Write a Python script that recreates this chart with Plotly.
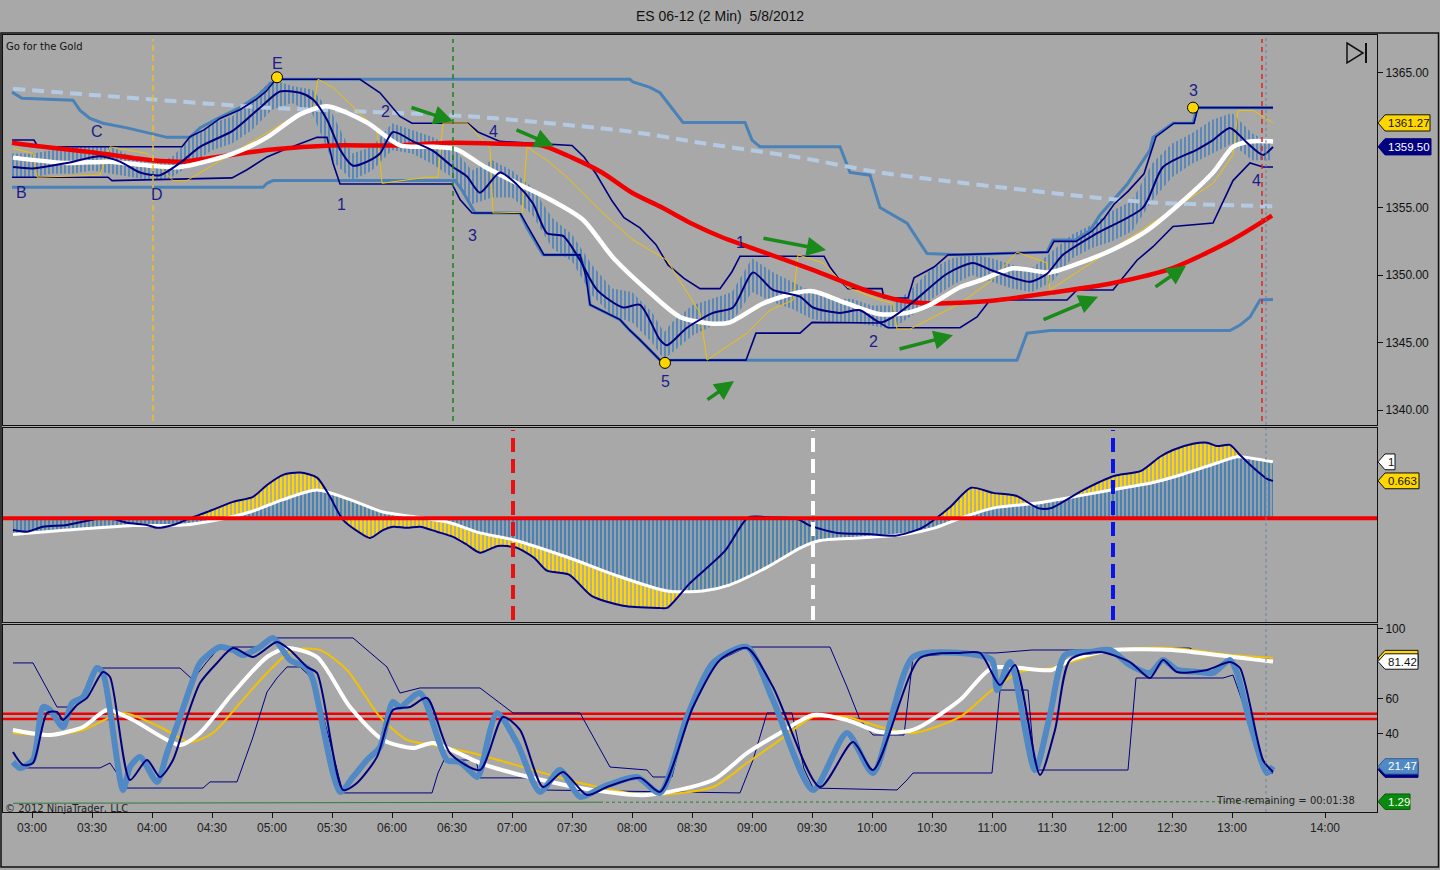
import plotly.graph_objects as go

FONT = "DejaVu Sans"
NUMFONT = "Liberation Sans"
BG = "#A8A8A8"
NAVY = "#000080"
STEEL = "#4A82B8"
GOLD = "#FFD700"
GREEN = "#1A8A1A"
CLEAR = "rgba(0,0,0,0)"

# ---------------- time axis (minutes after 03:00) ----------------
tick_vals = [0, 30, 60, 90, 120, 150, 180, 210, 240, 270, 300, 330, 360, 390,
             420, 450, 480, 510, 540, 570, 600, 646.5]
tick_text = ["03:00", "03:30", "04:00", "04:30", "05:00", "05:30", "06:00", "06:30",
             "07:00", "07:30", "08:00", "08:30", "09:00", "09:30", "10:00", "10:30",
             "11:00", "11:30", "12:00", "12:30", "13:00", "14:00"]

# ---------------- price panel ----------------
bar_t = [-10, 0, 10, 20, 30, 40, 50, 60, 70, 80, 90, 100, 110, 120, 130, 140, 150, 160,
         170, 180, 190, 200, 210, 220, 230, 240, 250, 260, 270, 280, 290, 300, 310, 316,
         320, 330, 340, 350, 360, 370, 380, 390, 400, 410, 420, 430, 440, 450, 460, 470,
         480, 490, 500, 510, 520, 530, 540, 550, 560, 570, 580, 590, 600, 610, 620]
bar_hi = [1359.0, 1359.0, 1359.25, 1359.5, 1359.5, 1359.5, 1358.75, 1358.25, 1358.75,
          1360.25, 1361.25, 1361.75, 1363.0, 1364.5, 1364.0, 1363.75, 1362.0, 1359.0,
          1359.5, 1361.25, 1360.75, 1360.25, 1359.5, 1357.75, 1358.5, 1357.75, 1356.5,
          1354.25, 1353.0, 1350.75, 1349.0, 1348.75, 1347.25, 1345.75, 1346.5, 1347.75,
          1348.25, 1348.75, 1351.25, 1350.25, 1349.5, 1348.75, 1348.25, 1348.25, 1347.75,
          1347.75, 1349.0, 1350.5, 1351.25, 1351.5, 1351.25, 1350.75, 1350.5, 1351.75,
          1353.0, 1353.75, 1354.75, 1355.5, 1358.25, 1359.75, 1360.5, 1361.5, 1362.0,
          1360.5, 1359.75]
bar_lo = [1357.25, 1357.25, 1357.5, 1357.5, 1357.75, 1357.5, 1357.25, 1357.0, 1357.25,
          1358.25, 1359.25, 1359.75, 1360.75, 1362.25, 1362.75, 1362.0, 1358.5, 1357.0,
          1357.75, 1359.25, 1359.0, 1358.25, 1357.25, 1355.25, 1355.75, 1355.75, 1354.5,
          1352.0, 1351.0, 1348.5, 1347.0, 1346.5, 1345.0, 1343.75, 1344.25, 1345.5,
          1346.25, 1346.5, 1348.75, 1348.0, 1347.5, 1346.75, 1346.5, 1346.5, 1346.25,
          1346.0, 1347.0, 1348.25, 1349.25, 1350.0, 1349.5, 1349.0, 1348.75, 1349.5,
          1351.25, 1352.0, 1352.5, 1353.25, 1355.5, 1357.25, 1358.25, 1359.0, 1359.75,
          1358.5, 1358.5]

fast_t = [-9.5, 0.5, 17.5, 34, 44, 54, 64, 74, 84, 100.5, 114, 124, 134, 140.5, 147.5,
          154, 160.5, 167.5, 174, 180.5, 190.5, 200.5, 210.5, 217.5, 224, 234, 242.5,
          250.5, 257.5, 265.5, 274, 282.5, 295.5, 304, 314, 317.5, 327.5, 340.5, 350.5,
          360.5, 370.5, 384, 390.5, 404, 414, 424, 430.5, 440.5, 457.5, 470.5, 479, 499,
          507.5, 515.5, 532.5, 555.5, 565.5, 582.5, 590.5, 599, 607.5, 615.5, 620.5]
fast_ma = [1358.0, 1357.9, 1358.3, 1358.8, 1358.4, 1357.6, 1357.4, 1358.3, 1359.5, 1360.7,
           1362.4, 1363.6, 1363.5, 1363.0, 1361.5, 1359.3, 1358.1, 1358.4, 1359.0, 1360.6,
           1359.9, 1359.2, 1358.0, 1357.3, 1356.1, 1357.6, 1356.7, 1355.3, 1353.1, 1352.9,
           1351.1, 1348.9, 1347.6, 1347.8, 1345.2, 1344.8, 1346.1, 1347.2, 1347.6, 1350.2,
           1348.9, 1348.4, 1347.6, 1347.2, 1347.4, 1346.5, 1346.9, 1348.0, 1350.1, 1350.9,
           1350.4, 1349.5, 1350.1, 1351.5, 1353.1, 1355.0, 1358.0, 1359.3, 1360.0, 1360.9,
           1359.8, 1358.9, 1359.5]

mid_t = [-9.5, 17.5, 39, 59, 74, 100.5, 117.5, 134, 147.5, 167.5, 184, 200.5, 212.5,
         225.5, 242.5, 259, 275.5, 290.5, 307.5, 324, 340.5, 349, 365.5, 382.5, 390.5,
         407.5, 424, 437.5, 449, 464, 474, 490.5, 509, 524, 540.5, 557.5, 574, 590.5,
         600.5, 609, 620.5]
mid_ma = [1358.7, 1358.3, 1358.4, 1358.1, 1358.0, 1359.0, 1360.2, 1361.9, 1362.5, 1361.3,
          1359.6, 1359.5, 1359.3, 1358.1, 1356.8, 1355.6, 1354.1, 1351.3, 1348.9, 1346.9,
          1346.4, 1346.5, 1347.9, 1348.7, 1348.8, 1347.9, 1347.1, 1347.2, 1347.8, 1349.1,
          1349.6, 1350.5, 1350.2, 1350.9, 1351.9, 1353.3, 1355.3, 1357.6, 1359.5, 1359.9,
          1359.9]

slow_t = [-10, 0, 30, 60, 75, 90, 120, 150, 180, 210, 240, 255, 270, 285, 300, 315, 330,
          345, 360, 390, 420, 435, 450, 480, 510, 540, 570, 600, 620]
slow_ma = [1359.8, 1359.6, 1359.1, 1358.5, 1358.4, 1358.7, 1359.3, 1359.6, 1359.6, 1359.8,
           1359.7, 1359.6, 1358.7, 1357.6, 1356.1, 1355.0, 1353.8, 1352.8, 1352.0, 1350.4,
           1348.7, 1348.1, 1347.9, 1348.1, 1348.7, 1349.4, 1350.5, 1352.6, 1354.4]

long_t = [-9.5, 60.5, 117.5, 167.5, 224, 300.5, 334, 384, 424, 490.5, 557.5, 620.5]
long_ma = [1363.8, 1363.0, 1362.4, 1362.1, 1361.7, 1360.6, 1359.8, 1358.7, 1357.6,
           1356.4, 1355.4, 1355.1]

outer_upper = [(-10, 1363.55), (-5, 1363.1), (20.5, 1362.95), (24, 1362.2), (29, 1361.6),
               (35.5, 1361.25), (47.5, 1360.9), (55.5, 1360.6), (67.5, 1360.2), (79, 1360.2),
               (84, 1360.9), (91.5, 1361.5), (104, 1362.4), (113, 1363.3), (119, 1364.15),
               (122.5, 1364.5), (299, 1364.5), (300.5, 1364.3), (309, 1363.9), (314, 1363.5),
               (322.5, 1361.85), (325.5, 1361.3), (356.5, 1361.3), (360, 1360.0),
               (364, 1359.5), (404, 1359.5), (409, 1357.6), (419, 1357.4), (424, 1355.0),
               (437.5, 1353.85), (447.5, 1351.6), (464, 1351.5), (507.5, 1351.7),
               (510.5, 1352.6), (521.5, 1352.6), (529, 1353.3), (534, 1354.45),
               (540.5, 1355.55), (547.5, 1356.7), (559, 1359.25), (560.5, 1360.2),
               (570.5, 1361.25), (580.5, 1361.25), (582.5, 1362.4), (620.5, 1362.4)]
outer_lower = [(-10, 1356.5), (115.5, 1356.5), (117.5, 1356.8), (120.5, 1357.0),
               (211.5, 1357.0), (215, 1356.3), (221.5, 1354.6), (244, 1354.6),
               (247.5, 1353.5), (255.5, 1351.5), (274, 1351.5), (277.5, 1349.85),
               (279, 1347.8), (294, 1346.7), (299, 1345.9), (304, 1345.2), (314, 1343.7),
               (492.5, 1343.7), (497.5, 1345.7), (509, 1345.9), (599, 1345.9),
               (604, 1346.3), (609, 1346.9), (614, 1348.15), (620.5, 1348.2)]

chan_upper = [(-10, 1360.0), (1, 1360.0), (3, 1359.5), (75, 1359.5), (79, 1360.25),
              (86, 1360.75), (94, 1361.6), (104, 1362.25), (112, 1363.0), (117, 1363.6),
              (122, 1364.5), (164, 1364.5), (174, 1363.5), (184, 1361.75), (190, 1361.25),
              (218, 1361.25), (223, 1360.6), (234, 1359.9), (270, 1359.6), (276, 1358.75),
              (282, 1357.5), (290, 1355.5), (296, 1354.25), (304, 1353.5), (312, 1352.25),
              (318, 1350.75), (326, 1349.75), (334, 1349.0), (344, 1349.0), (350, 1350.25),
              (354, 1351.4), (396, 1351.4), (399, 1350.6), (404, 1349.6), (408, 1349.0),
              (425, 1349.0), (426, 1348.3), (438, 1348.3), (441, 1349.8), (451, 1350.6),
              (458, 1351.5), (508, 1351.7), (511, 1352.5), (522, 1352.5), (530, 1353.25),
              (536, 1354.2), (541, 1355.25), (548, 1356.2), (556, 1357.5), (560, 1359.25),
              (562, 1360.25), (571, 1361.25), (581, 1361.25), (583, 1362.4), (620.5, 1362.4)]
chan_lower = [(-10, 1357.25), (38, 1357.25), (40, 1357.0), (100, 1357.2), (107.5, 1357.8),
              (117.5, 1358.75), (125.5, 1359.25), (142.5, 1360.2), (147.5, 1360.2),
              (150.5, 1358.3), (154, 1356.75), (210, 1356.75), (214, 1355.6), (220, 1354.6),
              (244, 1354.6), (248, 1353.6), (256, 1351.5), (274, 1351.5), (277, 1349.9),
              (279, 1347.8), (294, 1346.7), (299, 1345.9), (304, 1345.2), (314, 1343.7),
              (357, 1343.7), (362, 1345.7), (384, 1345.7), (390, 1346.5), (424, 1346.45),
              (428, 1346.1), (464, 1346.1), (472.5, 1346.9), (479, 1348.15), (517.5, 1348.15),
              (522.5, 1348.9), (540.5, 1348.9), (545.5, 1349.8), (552.5, 1351.1),
              (560.5, 1352.1), (570.5, 1353.6), (590.5, 1353.85), (597.5, 1356.1),
              (600.5, 1357.0), (609, 1358.3), (615.5, 1358.0), (620.5, 1358.0)]

swing = [(-9.5, 1359.4), (0.5, 1359.0), (2.5, 1357.25), (34, 1357.4), (39, 1359.5),
         (57.5, 1359.0), (70.5, 1357.0), (77.5, 1357.0), (134, 1362.0), (140.5, 1362.2),
         (143, 1364.5), (150.5, 1363.9), (172.5, 1360.75), (175, 1356.8), (197.5, 1357.25),
         (203, 1357.25), (205.5, 1361.25), (217.5, 1361.25), (229, 1359.4), (230.5, 1354.6),
         (245, 1354.65), (247.5, 1359.5), (257.5, 1358.5), (267.5, 1357.25), (284, 1354.8),
         (300.5, 1352.6), (317.5, 1351.1), (332.5, 1347.6), (334, 1347.2), (337.5, 1343.7),
         (357.5, 1345.7), (369, 1347.4), (380.5, 1348.15), (383, 1351.5), (395.5, 1350.9),
         (407.5, 1349.1), (424, 1348.15), (430.5, 1347.9), (432.5, 1346.0), (439, 1346.0),
         (464, 1347.9), (479, 1349.5), (492.5, 1351.7), (507.5, 1350.9), (509, 1348.9),
         (557.5, 1353.6), (590.5, 1356.8), (600.5, 1358.9), (603, 1362.2), (610.5, 1362.2),
         (620.5, 1361.27)]

wave_labels = [("E", 122.5, 1365.7), ("B", -5.5, 1356.15), ("C", 32.5, 1360.65),
               ("D", 62.5, 1356.0), ("1", 154.5, 1355.25), ("2", 176.5, 1362.1),
               ("3", 220, 1352.95), ("4", 230.5, 1360.65), ("1", 354, 1352.45),
               ("2", 420.5, 1345.1), ("5", 316.5, 1342.1), ("3", 580.5, 1363.7),
               ("4", 612, 1357.0)]
pivot_t = [122.5, 316.5, 580.5]
pivot_p = [1364.65, 1343.5, 1362.4]
# (tail t, tail price, head t, head price)
arrows = [(189, 1362.45, 210.5, 1361.4), (241.5, 1360.8, 261, 1359.55),
          (365, 1352.75, 397, 1351.85), (337, 1340.7, 351, 1342.15),
          (433, 1344.5, 460.5, 1345.55), (505, 1346.65, 533, 1348.4),
          (561, 1349.05, 577, 1350.7)]

# ---------------- MACD panel ----------------
macd_t = [-9.5, -2.5, 5.5, 17.5, 34, 39, 47.5, 57.5, 62.5, 70.5, 79, 87.5, 100.5, 110.5,
          117.5, 125.5, 134, 142.5, 149, 155.5, 164, 169, 175.5, 180.5, 187.5, 194, 202.5,
          210.5, 217.5, 224, 233, 242, 251, 257.5, 268.5, 280, 295.5, 313.5, 317.5, 329,
          346.5, 358, 367, 382.5, 389, 402.5, 418, 431.5, 445, 458.5, 469.5, 480.5, 492,
          503, 509.5, 525.5, 541, 554.5, 564, 570.5, 580.5, 587.5, 592.5, 599, 604, 609,
          617.5, 620.5]
macd = [-0.21, -0.24, -0.15, -0.12, 0.0, 0.0, -0.08, -0.12, -0.17, -0.12, 0.0, 0.11, 0.29,
        0.38, 0.59, 0.77, 0.81, 0.72, 0.38, -0.03, -0.26, -0.35, -0.21, -0.15, -0.17, -0.15,
        -0.24, -0.33, -0.47, -0.61, -0.49, -0.52, -0.70, -0.93, -1.00, -1.38, -1.55, -1.59,
        -1.59, -1.15, -0.58, 0.01, 0.02, -0.01, -0.13, -0.26, -0.28, -0.31, -0.17, 0.18,
        0.54, 0.45, 0.40, 0.18, 0.18, 0.50, 0.75, 0.84, 1.09, 1.21, 1.32, 1.34, 1.28, 1.30,
        1.12, 0.95, 0.70, 0.663]
signal_t = [-9.5, 17.5, 50.5, 75.5, 92.5, 109, 125.5, 142.5, 159, 175.5, 192.5, 209, 224,
            240.5, 268.5, 291, 317.5, 335.5, 349, 367, 384.5, 393.5, 413.5, 436, 451.5, 465,
            480.5, 503, 525.5, 547.5, 559, 575.5, 592.5, 602.5, 609, 620.5]
signal = [-0.29, -0.21, -0.13, -0.12, -0.03, 0.11, 0.33, 0.50, 0.33, 0.11, 0.02, -0.08,
          -0.26, -0.38, -0.70, -1.00, -1.29, -1.29, -1.18, -0.88, -0.52, -0.40, -0.35, -0.29,
          -0.17, 0.01, 0.18, 0.27, 0.41, 0.55, 0.62, 0.78, 0.98, 1.09, 1.07, 1.0]
macd_marks = [(240.5, "#E81010"), (390.5, "#FFFFFF"), (540.5, "#0A14E6")]

# ---------------- stochastic panel ----------------
k_t = [-9.5, -6, 0.5, 5.5, 9, 15.5, 20, 25.5, 32.5, 35.5, 45.5, 49, 54, 62.5, 67.5, 74,
       80.5, 84, 94, 100.5, 105.5, 114, 120.5, 129, 137.5, 140.5, 154, 160.5, 167.5, 174,
       180.5, 184, 194, 207.5, 214, 222.5, 224, 232.5, 242.5, 254, 264, 274, 285.5, 302.5,
       314, 327.5, 340.5, 357.5, 370.5, 390.5, 407.5, 420.5, 440.5, 464, 480, 482.5, 489,
       501.5, 509, 516.5, 529, 539, 549, 559, 565.5, 572.5, 584, 590.5, 599, 602.5, 609,
       617.5, 620.5]
stoch_k = [24.0, 20.6, 25.1, 55.4, 53.7, 44.0, 57.7, 61.1, 77.7, 74.9, 8.0, 21.1, 26.9,
           12.6, 29.1, 49.7, 70.9, 80.6, 89.7, 88.0, 85.1, 89.7, 94.9, 82.3, 77.7, 70.9, 6.9,
           15.4, 25.1, 32.6, 58.3, 55.4, 63.4, 25.1, 24.0, 15.4, 17.7, 52.0, 34.9, 6.9, 19.4,
           4.0, 9.7, 15.4, 6.3, 49.7, 80.6, 89.7, 59.4, 8.0, 40.6, 17.7, 84.0, 86.3, 82.3,
           65.1, 81.1, 19.4, 50.9, 85.1, 86.9, 88.0, 79.4, 74.9, 82.3, 76.6, 75.4, 74.9, 82.3,
           74.9, 46.3, 17.7, 21.47]
d_t = [-9.5, -4.5, 0.5, 7.5, 12.5, 15.5, 22.5, 27.5, 35.5, 39, 49, 57.5, 64, 70.5, 77.5,
       84, 92.5, 100.5, 110.5, 122.5, 129, 137.5, 142.5, 155.5, 162.5, 172.5, 180.5, 189,
       197.5, 209, 224, 235.5, 244, 255.5, 265.5, 277.5, 287.5, 304, 314, 330.5, 344, 357.5,
       370.5, 394, 410.5, 420.5, 444, 464, 474, 484, 491.5, 504, 511.5, 519, 534, 549, 559,
       565.5, 572.5, 587.5, 599, 604, 615.5, 620.5]
stoch_d = [29.7, 22.3, 23.4, 52.0, 52.6, 48.0, 56.6, 60.6, 75.4, 72.6, 13.7, 25.1, 15.4,
           25.1, 49.7, 69.1, 80.6, 89.1, 84.0, 92.6, 88.0, 78.3, 74.9, 8.0, 12.0, 26.9, 53.7,
           55.4, 60.6, 29.1, 19.4, 49.7, 42.3, 9.7, 18.3, 5.1, 9.7, 14.9, 6.9, 55.4, 82.3,
           89.1, 66.9, 9.7, 35.4, 19.4, 83.4, 86.3, 86.3, 68.0, 79.4, 16.6, 42.3, 82.3, 86.9,
           81.1, 72.0, 82.3, 75.4, 76.6, 81.1, 77.7, 25.1, 18.3]
sw_t = [-9.5, 9, 25.5, 37.5, 50.5, 74, 84, 100.5, 117.5, 127.5, 142.5, 159, 175.5, 190.5,
        200.5, 224, 240.5, 274, 307.5, 340.5, 357.5, 374, 390.5, 407.5, 424, 440.5, 464, 480,
        510, 519, 540, 570, 592.5, 620.5]
stoch_w = [42.3, 39.4, 44.0, 53.7, 48.0, 33.7, 40.6, 63.4, 84.0, 89.1, 84.0, 55.4, 36.6,
           32.0, 34.9, 23.4, 17.7, 9.1, 5.1, 13.7, 29.1, 40.6, 50.9, 48.0, 41.1, 42.3, 59.4,
           77.7, 76.6, 82.3, 88.0, 88.0, 85.1, 81.42]
sy_t = [-9.5, 9, 25.5, 45.5, 64, 79, 90.5, 104, 117.5, 130.5, 144, 157.5, 174, 187.5, 200.5,
        224, 274, 307.5, 340.5, 357.5, 374, 390.5, 407.5, 424, 440.5, 464, 480, 494, 510,
        540, 570, 600, 620.5]
stoch_y = [40.6, 39.4, 42.3, 52.0, 44.0, 35.4, 40.6, 57.7, 74.9, 88.0, 88.0, 76.6, 49.7,
           36.6, 33.7, 28.0, 12.0, 5.1, 9.7, 23.4, 36.6, 49.7, 49.7, 44.0, 40.6, 49.7, 65.1,
           75.4, 77.7, 88.0, 89.1, 85.1, 83.4]
st_upper = [(-9.5, 80.6), (0.5, 80.6), (12.5, 55.4), (17.5, 55.4), (25.5, 61.1), (32.5, 77.7),
            (74, 77.7), (80.5, 70.9), (87, 80.6), (94, 89.7), (114, 89.7), (120.5, 94.9),
            (160.5, 94.9), (167.5, 88.0), (177.5, 78.3), (184, 63.4), (194, 66.3), (224, 66.3),
            (240.5, 52.0), (274, 52.0), (280.5, 38.3), (289, 21.1), (307.5, 19.4),
            (310.5, 15.4), (320, 15.4), (327.5, 49.7), (340.5, 80.6), (357.5, 89.7),
            (399, 89.7), (407.5, 66.9), (414, 48.0), (420.5, 39.4), (436, 39.4), (440.5, 84.0),
            (464, 86.3), (482, 86.3), (500, 88.0), (540, 88.0), (559, 89.1), (579, 89.1),
            (582.5, 86.3), (614, 83.4), (620.5, 83.4)]
st_lower = [(-4.5, 20.6), (34, 20.6), (39, 23.4), (47.5, 9.1), (85.5, 9.1), (89, 12.6),
            (102.5, 12.6), (110.5, 38.3), (117.5, 64.0), (122.5, 72.0), (127.5, 78.3),
            (134, 78.3), (141, 70.9), (148, 40.0), (155.5, 6.3), (200, 6.3), (203, 17.7),
            (206, 25.1), (222, 25.1), (224, 14.9), (249, 14.9), (254, 8.0), (354, 6.3),
            (360.5, 25.1), (367.5, 52.0), (380, 52.0), (386, 20.0), (390.5, 9.1),
            (432.5, 8.0), (437.5, 13.7), (440.5, 17.7), (480, 17.7), (484, 65.1),
            (498, 65.1), (501.5, 19.4), (548, 19.4), (552, 72.0), (595.5, 72.0),
            (600.5, 73.7), (609, 46.3), (617.5, 17.7), (620.5, 17.7)]
vol_t = [-9.5, 150, 284]
vol_v = [0.4, 0.7, 1.0]
vol_tail_t = [284, 620.5]
vol_tail_v = [1.0, 1.29]

# ---------------- figure ----------------
fig = go.Figure()


def line(x, y, color, width, ya="y", shape="linear", dash="solid", **kw):
    xa = {"y": "x", "y2": "x2", "y3": "x3"}[ya]
    ln = dict(color=color, width=width, shape=shape, dash=dash)
    if shape == "spline":
        ln["smoothing"] = 0.7
    fig.add_trace(go.Scatter(x=x, y=y, mode="lines", line=ln, xaxis=xa, yaxis=ya,
                             hoverinfo="skip", showlegend=False, **kw))


def pairs(lst):
    return [p[0] for p in lst], [p[1] for p in lst]


def stripes(color, solidity):
    return dict(shape="|", size=4, solidity=solidity, fgcolor=color, bgcolor=CLEAR,
                fillmode="replace")


# price bars drawn as a striped band
line(bar_t, bar_lo, CLEAR, 0)
line(bar_t, bar_hi, CLEAR, 0, fill="tonexty", fillcolor=CLEAR,
     fillpattern=stripes("#4680BC", 0.4))

line(*pairs(outer_upper), STEEL, 3)
line(*pairs(outer_lower), STEEL, 3)
line(long_t, long_ma, "#B4CAE2", 4, shape="spline", dash="12px,7px")
line(*pairs(chan_upper), NAVY, 1.6)
line(*pairs(chan_lower), NAVY, 1.6)
line(*pairs(swing), "#F2C200", 1)
line(slow_t, slow_ma, "#F00000", 4.5, shape="spline")
line(mid_t, mid_ma, "#FFFFFF", 4.5, shape="spline")
line(fast_t, fast_ma, NAVY, 2, shape="spline")
fig.add_trace(go.Scatter(x=pivot_t, y=pivot_p, mode="markers", xaxis="x", yaxis="y",
                         marker=dict(size=11, color=GOLD, line=dict(color="black", width=1)),
                         hoverinfo="skip", showlegend=False))

# MACD: yellow between signal and macd, blue stripes from zero to signal
line(signal_t, signal, CLEAR, 0, ya="y2", shape="spline")
line(macd_t, macd, CLEAR, 0, ya="y2", shape="spline", fill="tonexty", fillcolor=CLEAR,
     fillpattern=stripes(GOLD, 0.55))
line([-9.5, 620.5], [0, 0], CLEAR, 0, ya="y2")
line(signal_t, signal, CLEAR, 0, ya="y2", shape="spline", fill="tonexty", fillcolor=CLEAR,
     fillpattern=stripes("#4A82B4", 0.6))
line(signal_t, signal, "#FFFFFF", 3, ya="y2", shape="spline")
line(macd_t, macd, NAVY, 2, ya="y2", shape="spline")
line([-14.5, 672.5], [0, 0], "#F00000", 4, ya="y2")

# stochastics
line([-14.5, 672.5], [51.6, 51.6], "#F00000", 2.5, ya="y3")
line([-14.5, 672.5], [48.6, 48.6], "#F00000", 2.5, ya="y3")
line(vol_t, vol_v, "#2E7D32", 1, ya="y3")
line(vol_tail_t, vol_tail_v, "#2E7D32", 1, ya="y3", dash="dot")
line(*pairs(st_upper), NAVY, 1, ya="y3")
line(*pairs(st_lower), NAVY, 1, ya="y3")
line(sy_t, stoch_y, "#F2C200", 2, ya="y3", shape="spline")
line(sw_t, stoch_w, "#FFFFFF", 4, ya="y3", shape="spline")
line(k_t, stoch_k, "#5089C4", 6, ya="y3", shape="spline")
line(d_t, stoch_d, NAVY, 2, ya="y3", shape="spline")


# ---------------- vertical markers ----------------
def vline(t, color, width, dash, yref):
    fig.add_shape(type="line", x0=t, x1=t, y0=0.01, y1=0.99, xref="x", yref=yref,
                  line=dict(color=color, width=width, dash=dash), layer="above")


vline(60.5, "#F0C020", 1.5, "6px,4px", "y domain")
vline(210.5, "#1F7F1F", 1.5, "5px,4px", "y domain")
vline(615, "#E02020", 1.5, "5px,4px", "y domain")
for yr in ["y domain", "y2 domain", "y3 domain"]:
    fig.add_shape(type="line", x0=617, x1=617, y0=0, y1=1, xref="x", yref=yr,
                  line=dict(color="#6E8296", width=1, dash="dot"), layer="above")
for t, c in macd_marks:
    vline(t, c, 4, "14px,7px", "y2 domain")

# ---------------- text on price panel ----------------
for txt, t, p in wave_labels:
    fig.add_annotation(x=t, y=p, xref="x", yref="y", text=txt, showarrow=False,
                       font=dict(family=NUMFONT, size=16, color="#1C1C8A"))
for t0, p0, t1, p1 in arrows:
    fig.add_annotation(x=t1, y=p1, ax=t0, ay=p0, xref="x", yref="y", axref="x", ayref="y",
                       text="", showarrow=True, arrowhead=2, arrowsize=1.1,
                       arrowwidth=3.5, arrowcolor=GREEN)


def px_x(px):
    return (px - 3) / 1374.0


def px_y(py):
    return (812 - py) / 777.0


fig.add_annotation(x=px_x(4), y=px_y(46), xref="paper", yref="paper", text="Go for the Gold",
                   showarrow=False, xanchor="left", yanchor="middle",
                   font=dict(family=FONT, size=10, color="#111111"))
fig.add_annotation(x=px_x(3), y=px_y(808), xref="paper", yref="paper",
                   text="© 2012 NinjaTrader, LLC", showarrow=False, xanchor="left",
                   yanchor="middle", font=dict(family=FONT, size=10, color="#222222"))
fig.add_annotation(x=px_x(1214), y=px_y(800), xref="paper", yref="paper",
                   text="Time remaining = 00:01:38", showarrow=False, xanchor="left",
                   yanchor="middle", font=dict(family=FONT, size=10, color="#222222"))

# play-to-end icon
fig.add_shape(type="path", xref="paper", yref="paper",
              path=f"M {px_x(1347)},{px_y(43)} L {px_x(1363)},{px_y(53)} L {px_x(1347)},{px_y(63)} Z",
              line=dict(color="#111111", width=1.5), fillcolor=CLEAR)
fig.add_shape(type="line", xref="paper", yref="paper", x0=px_x(1366), x1=px_x(1366),
              y0=px_y(43), y1=px_y(63), line=dict(color="#111111", width=2))

# outer frame
fig.add_shape(type="rect", xref="paper", yref="paper", x0=px_x(1), x1=px_x(1438.5),
              y0=px_y(867), y1=px_y(33), line=dict(color="#111111", width=1.5),
              fillcolor=CLEAR)


# ---------------- right-hand value flags ----------------
def flag(v, yref, h, right_px, bg, fg, txt, border="#111111"):
    xt, xs, xr = px_x(1378), px_x(1385), px_x(right_px)
    fig.add_shape(type="path", xref="paper", yref=yref, fillcolor=bg,
                  line=dict(color=border, width=1),
                  path=f"M {xt},{v} L {xs},{v + h} L {xr},{v + h} L {xr},{v - h} L {xs},{v - h} Z")
    fig.add_annotation(x=px_x(1386.5), y=v, xref="paper", yref=yref, text=txt,
                       showarrow=False, xanchor="left", yanchor="middle",
                       font=dict(family=NUMFONT, size=11.5, color=fg))


flag(1361.27, "y", 0.6, 1430, GOLD, "#111111", "1361.27")
flag(1359.50, "y", 0.6, 1431, NAVY, "#FFFFFF", "1359.50", border=NAVY)
flag(1.0, "y2", 0.14, 1395, "#FFFFFF", "#111111", "1")
flag(0.663, "y2", 0.14, 1419, GOLD, "#111111", "0.663")
flag(83.4, "y3", 4.4, 1418, GOLD, "#111111", "")
flag(81.42, "y3", 4.4, 1418, "#FFFFFF", "#111111", "81.42")
flag(19.6, "y3", 4.4, 1418, NAVY, "#FFFFFF", "", border=NAVY)
flag(21.47, "y3", 4.4, 1418, "#5089C4", "#FFFFFF", "21.47", border="#2F5F8F")
flag(1.29, "y3", 4.4, 1410, "#0A8A0A", "#FFFFFF", "1.29", border="#075A07")

# ---------------- layout ----------------
xbase = dict(range=[-14.5, 672.5], showgrid=False, zeroline=False, showline=True,
             mirror=True, linecolor="#111111", linewidth=1, tickvals=tick_vals,
             ticktext=tick_text)
ybase = dict(side="right", showgrid=False, zeroline=False, showline=True, mirror=True,
             linecolor="#111111", linewidth=1, ticks="outside", ticklen=5,
             tickcolor="#111111", tickfont=dict(family=NUMFONT, size=12, color="#111111"))

fig.update_layout(
    width=1440, height=870,
    margin=dict(l=3, r=63, t=35, b=58),
    paper_bgcolor=BG, plot_bgcolor=BG,
    hovermode=False, showlegend=False,
    font=dict(family=FONT, size=11, color="#111111"),
    title=dict(text="ES 06-12 (2 Min) \u00a05/8/2012", x=0.5, xanchor="center",
               y=1 - 16 / 870, yanchor="middle",
               font=dict(family=NUMFONT, size=14, color="#111111")),
    xaxis=dict(xbase, anchor="y", matches="x3", showticklabels=False, ticks=""),
    xaxis2=dict(xbase, anchor="y2", matches="x3", showticklabels=False, ticks=""),
    xaxis3=dict(xbase, anchor="y3", ticks="outside", ticklen=5, tickcolor="#111111",
                tickfont=dict(family=NUMFONT, size=12, color="#222222")),
    yaxis=dict(ybase, domain=[0.4981, 1.0], range=[1338.9, 1367.78],
               tickvals=[1340, 1345, 1350, 1355, 1365], tickformat=".2f"),
    yaxis2=dict(ybase, domain=[0.2445, 0.4942], range=[-1.84, 1.60],
                showticklabels=False, ticks=""),
    yaxis3=dict(ybase, domain=[0.0, 0.2407], range=[-4.6, 102.3],
                tickvals=[100, 60, 40]),
)

fig.write_html("out.html", config={"displayModeBar": False},
               post_script="document.body.style.margin='0';document.body.style.overflow='hidden';")
